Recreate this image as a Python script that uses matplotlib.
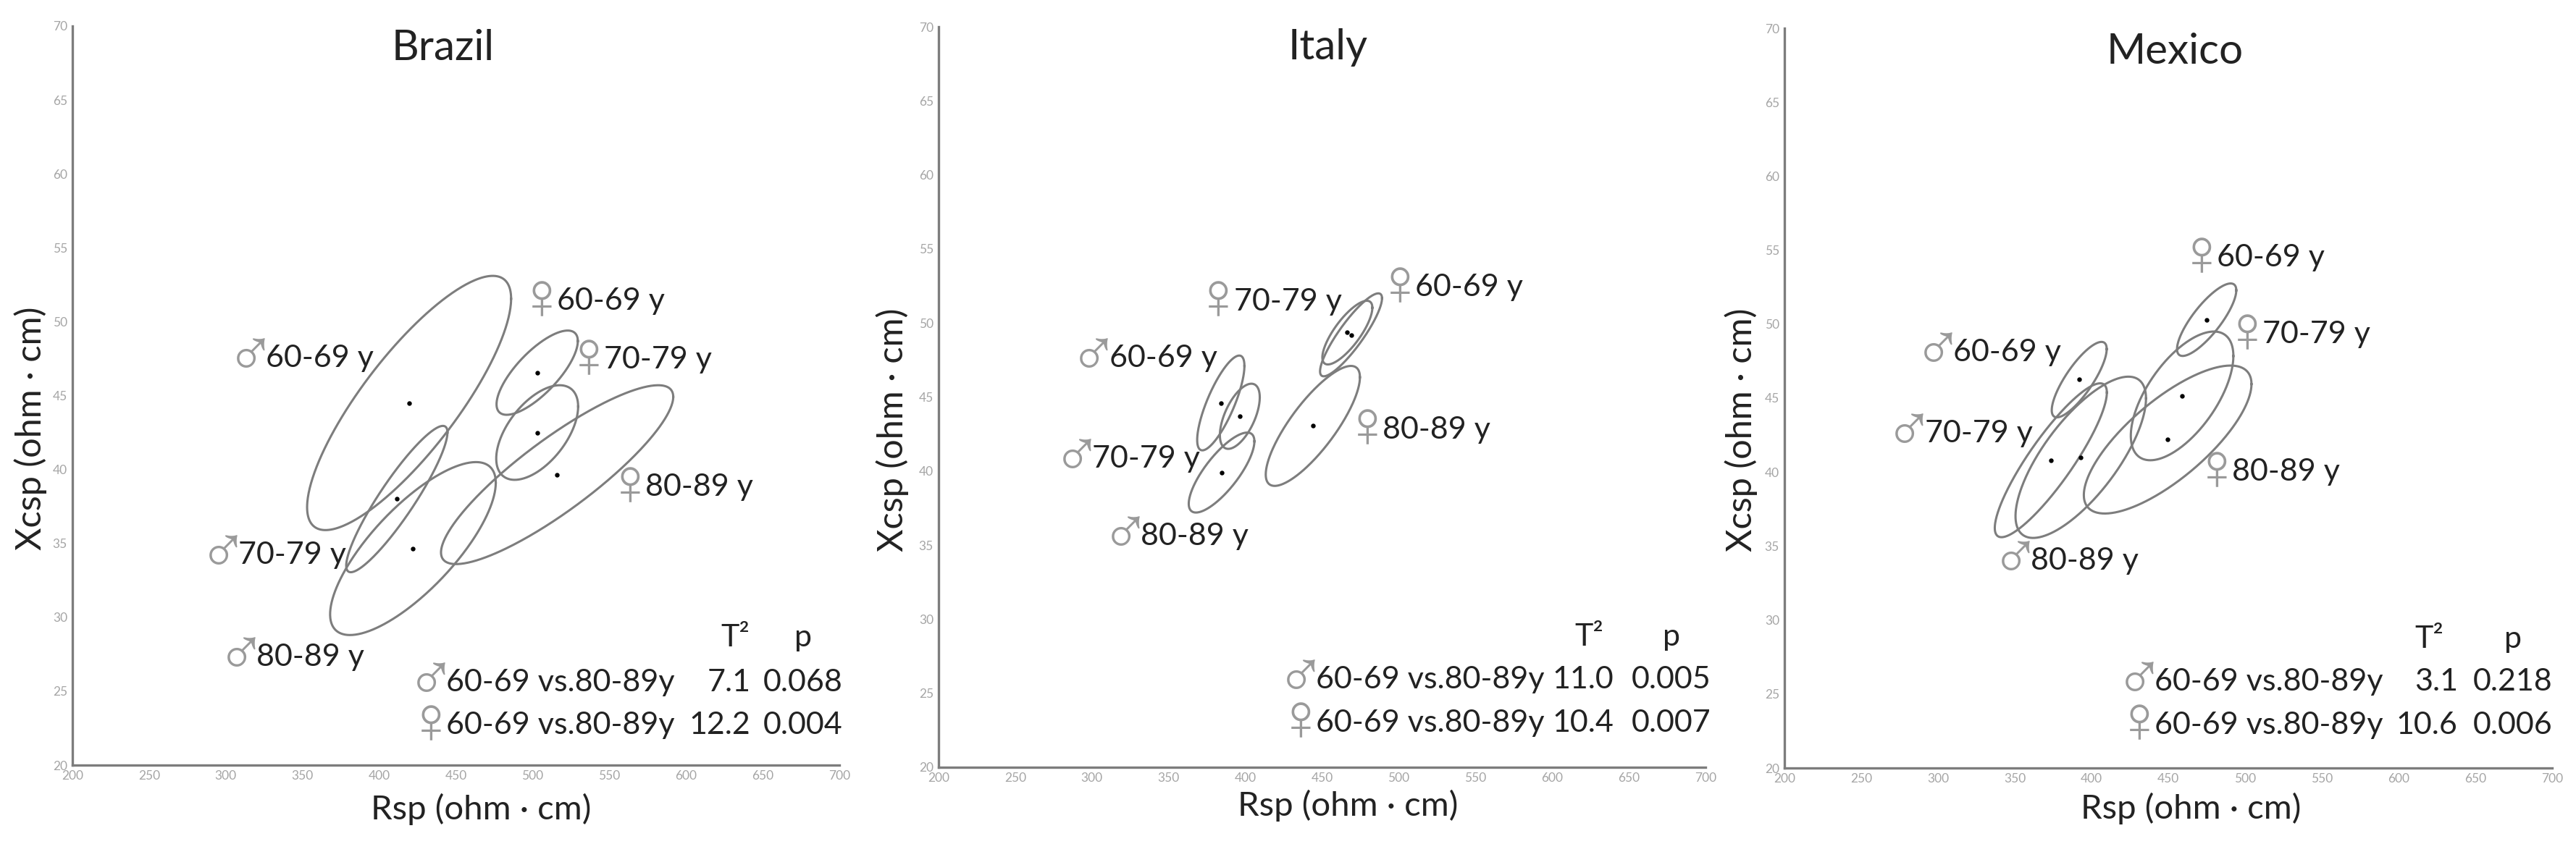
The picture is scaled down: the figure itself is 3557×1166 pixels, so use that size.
import numpy as np
import matplotlib
matplotlib.use("Agg")
import matplotlib.pyplot as plt

W, H = 3557, 1166
FONT = ["Lato", "DejaVu Sans"]
TEXT = "#222222"
GREY = "#7d7d7d"
SYM = "#9a9a9a"

countries = ["Brazil", "Italy", "Mexico"]
groups = ["♂", "♂", "♂", "♀", "♀", "♀"]
ages = ["60-69 y", "70-79 y", "80-89 y", "60-69 y", "70-79 y", "80-89 y"]

# mean Rsp, mean Xcsp, half-width, half-height, correlation
brazil_cx = [419.5, 411.5, 422, 503, 503, 516]
brazil_cy = [44.5, 38.0, 34.65, 46.55, 42.5, 39.65]
brazil_a = [66.5, 33, 54, 26.5, 26.7, 75.7]
brazil_b = [8.6, 4.95, 5.85, 2.85, 3.2, 6.05]
brazil_r = [0.82, 0.91, 0.76, 0.75, 0.55, 0.87]

italy_cx = [384, 396.4, 384.5, 468.9, 466.5, 444]
italy_cy = [44.6, 43.7, 39.9, 49.2, 49.35, 43.05]
italy_a = [15.4, 13, 21.4, 20.2, 16.3, 30.7]
italy_b = [3.2, 2.2, 2.7, 2.8, 2.15, 4.05]
italy_r = [0.78, 0.58, 0.78, 0.88, 0.78, 0.81]

mexico_cx = [392, 373.5, 393, 475, 459, 449.6]
mexico_cy = [46.25, 40.8, 41, 50.3, 45.15, 42.2]
mexico_a = [17.9, 36.5, 42.5, 19.3, 33.4, 54.6]
mexico_b = [2.55, 5.2, 5.45, 2.45, 4.35, 5]
mexico_r = [0.81, 0.88, 0.73, 0.81, 0.62, 0.75]

# label anchors
brazil_lx = [326, 308, 320, 515.8, 546.5, 573.6]
brazil_ly = [47.5, 34.2, 27.3, 51.4, 47.4, 38.8]
italy_lx = [311.2, 300, 331.8, 510.5, 392.4, 489.5]
italy_ly = [47.6, 40.8, 35.6, 52.4, 51.45, 42.8]
mexico_lx = [310, 291.3, 360.6, 481.6, 511.2, 491.7]
mexico_ly = [48.1, 42.6, 34, 54.5, 49.3, 40]

# Hotelling table
comparison = "60-69 vs.80-89y"
brazil_t2 = ["7.1", "12.2"]
brazil_p = ["0.068", "0.004"]
italy_t2 = ["11.0", "10.4"]
italy_p = ["0.005", "0.007"]
mexico_t2 = ["3.1", "10.6"]
mexico_p = ["0.218", "0.006"]

xticks = list(range(200, 701, 50))
yticks = list(range(20, 71, 5))

panels = [
    dict(name=countries[0], box=(100, 36, 1159, 1057),
         cx=brazil_cx, cy=brazil_cy, a=brazil_a, b=brazil_b, r=brazil_r,
         lx=brazil_lx, ly=brazil_ly, t2=brazil_t2, p=brazil_p,
         title=(441.7, 68.5), xl=(0.5325, -0.0597), yl=(-0.055, 0.456),
         tleft=443.5, trows=(25.6, 22.7), tnum=642, tp=702, hT=632, hp=676.5, hy=28.6),
    dict(name=countries[1], box=(1296, 37, 2355, 1060),
         cx=italy_cx, cy=italy_cy, a=italy_a, b=italy_b, r=italy_r,
         lx=italy_lx, ly=italy_ly, t2=italy_t2, p=italy_p,
         title=(453.8, 68.6), xl=(0.534, -0.052), yl=(-0.06, 0.456),
         tleft=445.8, trows=(25.9, 23.0), tnum=640, tp=703.6, hT=624, hp=678, hy=28.8),
    dict(name=countries[2], box=(2464, 39, 3524, 1061),
         cx=mexico_cx, cy=mexico_cy, a=mexico_a, b=mexico_b, r=mexico_r,
         lx=mexico_lx, ly=mexico_ly, t2=mexico_t2, p=mexico_p,
         title=(454.5, 68.4), xl=(0.529, -0.0545), yl=(-0.056, 0.457),
         tleft=441, trows=(25.8, 22.9), tnum=638.6, tp=700, hT=620, hp=674.7, hy=28.7),
]

LABEL_FS = 31
fig = plt.figure(figsize=(W / 100, H / 100), dpi=100, facecolor="white")
t = np.linspace(0, 2 * np.pi, 361)


def sym_label(ax, sym, txt, x, y):
    ax.text(x, y, txt, fontsize=LABEL_FS, family=FONT, color=TEXT, ha="left", va="center")
    ax.annotate(sym, (x, y), xytext=(-15, 0), textcoords="offset points",
                fontsize=66, family=["Liberation Sans", "DejaVu Sans"], color=SYM,
                ha="center", va="center")


for pn in panels:
    l, top, r_, bot = pn["box"]
    ax = fig.add_axes([l / W, 1 - bot / H, (r_ - l) / W, (bot - top) / H])
    ax.set_xlim(200, 700)
    ax.set_ylim(20, 70)
    ax.patch.set_alpha(0)
    for s in ("top", "right"):
        ax.spines[s].set_visible(False)
    for s in ("left", "bottom"):
        ax.spines[s].set_color(GREY)
        ax.spines[s].set_linewidth(2.4)
    ax.set_xticks(xticks)
    ax.set_yticks(yticks)
    ax.tick_params(length=0, pad=5, labelsize=12.5, labelcolor="#a5a5a5")
    for lab in ax.get_xticklabels() + ax.get_yticklabels():
        lab.set_family(FONT)

    for i in range(6):
        phi = np.arccos(pn["r"][i])
        ax.plot(pn["cx"][i] + pn["a"][i] * np.cos(t),
                pn["cy"][i] + pn["b"][i] * np.cos(t - phi),
                color=GREY, lw=2.2, clip_on=False)
    ax.plot(pn["cx"], pn["cy"], ls="none", marker="o", ms=3.6, color="black")

    for i in range(6):
        sym_label(ax, groups[i], ages[i], pn["lx"][i], pn["ly"][i])

    ax.text(*pn["title"], pn["name"], fontsize=42, family=FONT, color=TEXT, ha="center", va="center")
    ax.set_xlabel("Rsp (ohm · cm)", fontsize=34, family=FONT, color=TEXT, ha="center", va="center")
    ax.set_ylabel("Xcsp (ohm · cm)", fontsize=35, family=FONT, color=TEXT, ha="center", va="center")
    ax.xaxis.set_label_coords(*pn["xl"])
    ax.yaxis.set_label_coords(*pn["yl"])

    ax.text(pn["hT"], pn["hy"], "T²", fontsize=LABEL_FS, family=FONT, color=TEXT, ha="center", va="center", clip_on=False)
    ax.text(pn["hp"], pn["hy"], "p", fontsize=LABEL_FS, family=FONT, color=TEXT, ha="center", va="center", clip_on=False)
    for k, sym in enumerate(["♂", "♀"]):
        y = pn["trows"][k]
        sym_label(ax, sym, comparison, pn["tleft"], y)
        ax.text(pn["tnum"], y, pn["t2"][k], fontsize=LABEL_FS, family=FONT, color=TEXT, ha="right", va="center", clip_on=False)
        ax.text(pn["tp"], y, pn["p"][k], fontsize=LABEL_FS, family=FONT, color=TEXT, ha="right", va="center", clip_on=False)

fig.savefig("out.png", dpi=100, facecolor="white")
